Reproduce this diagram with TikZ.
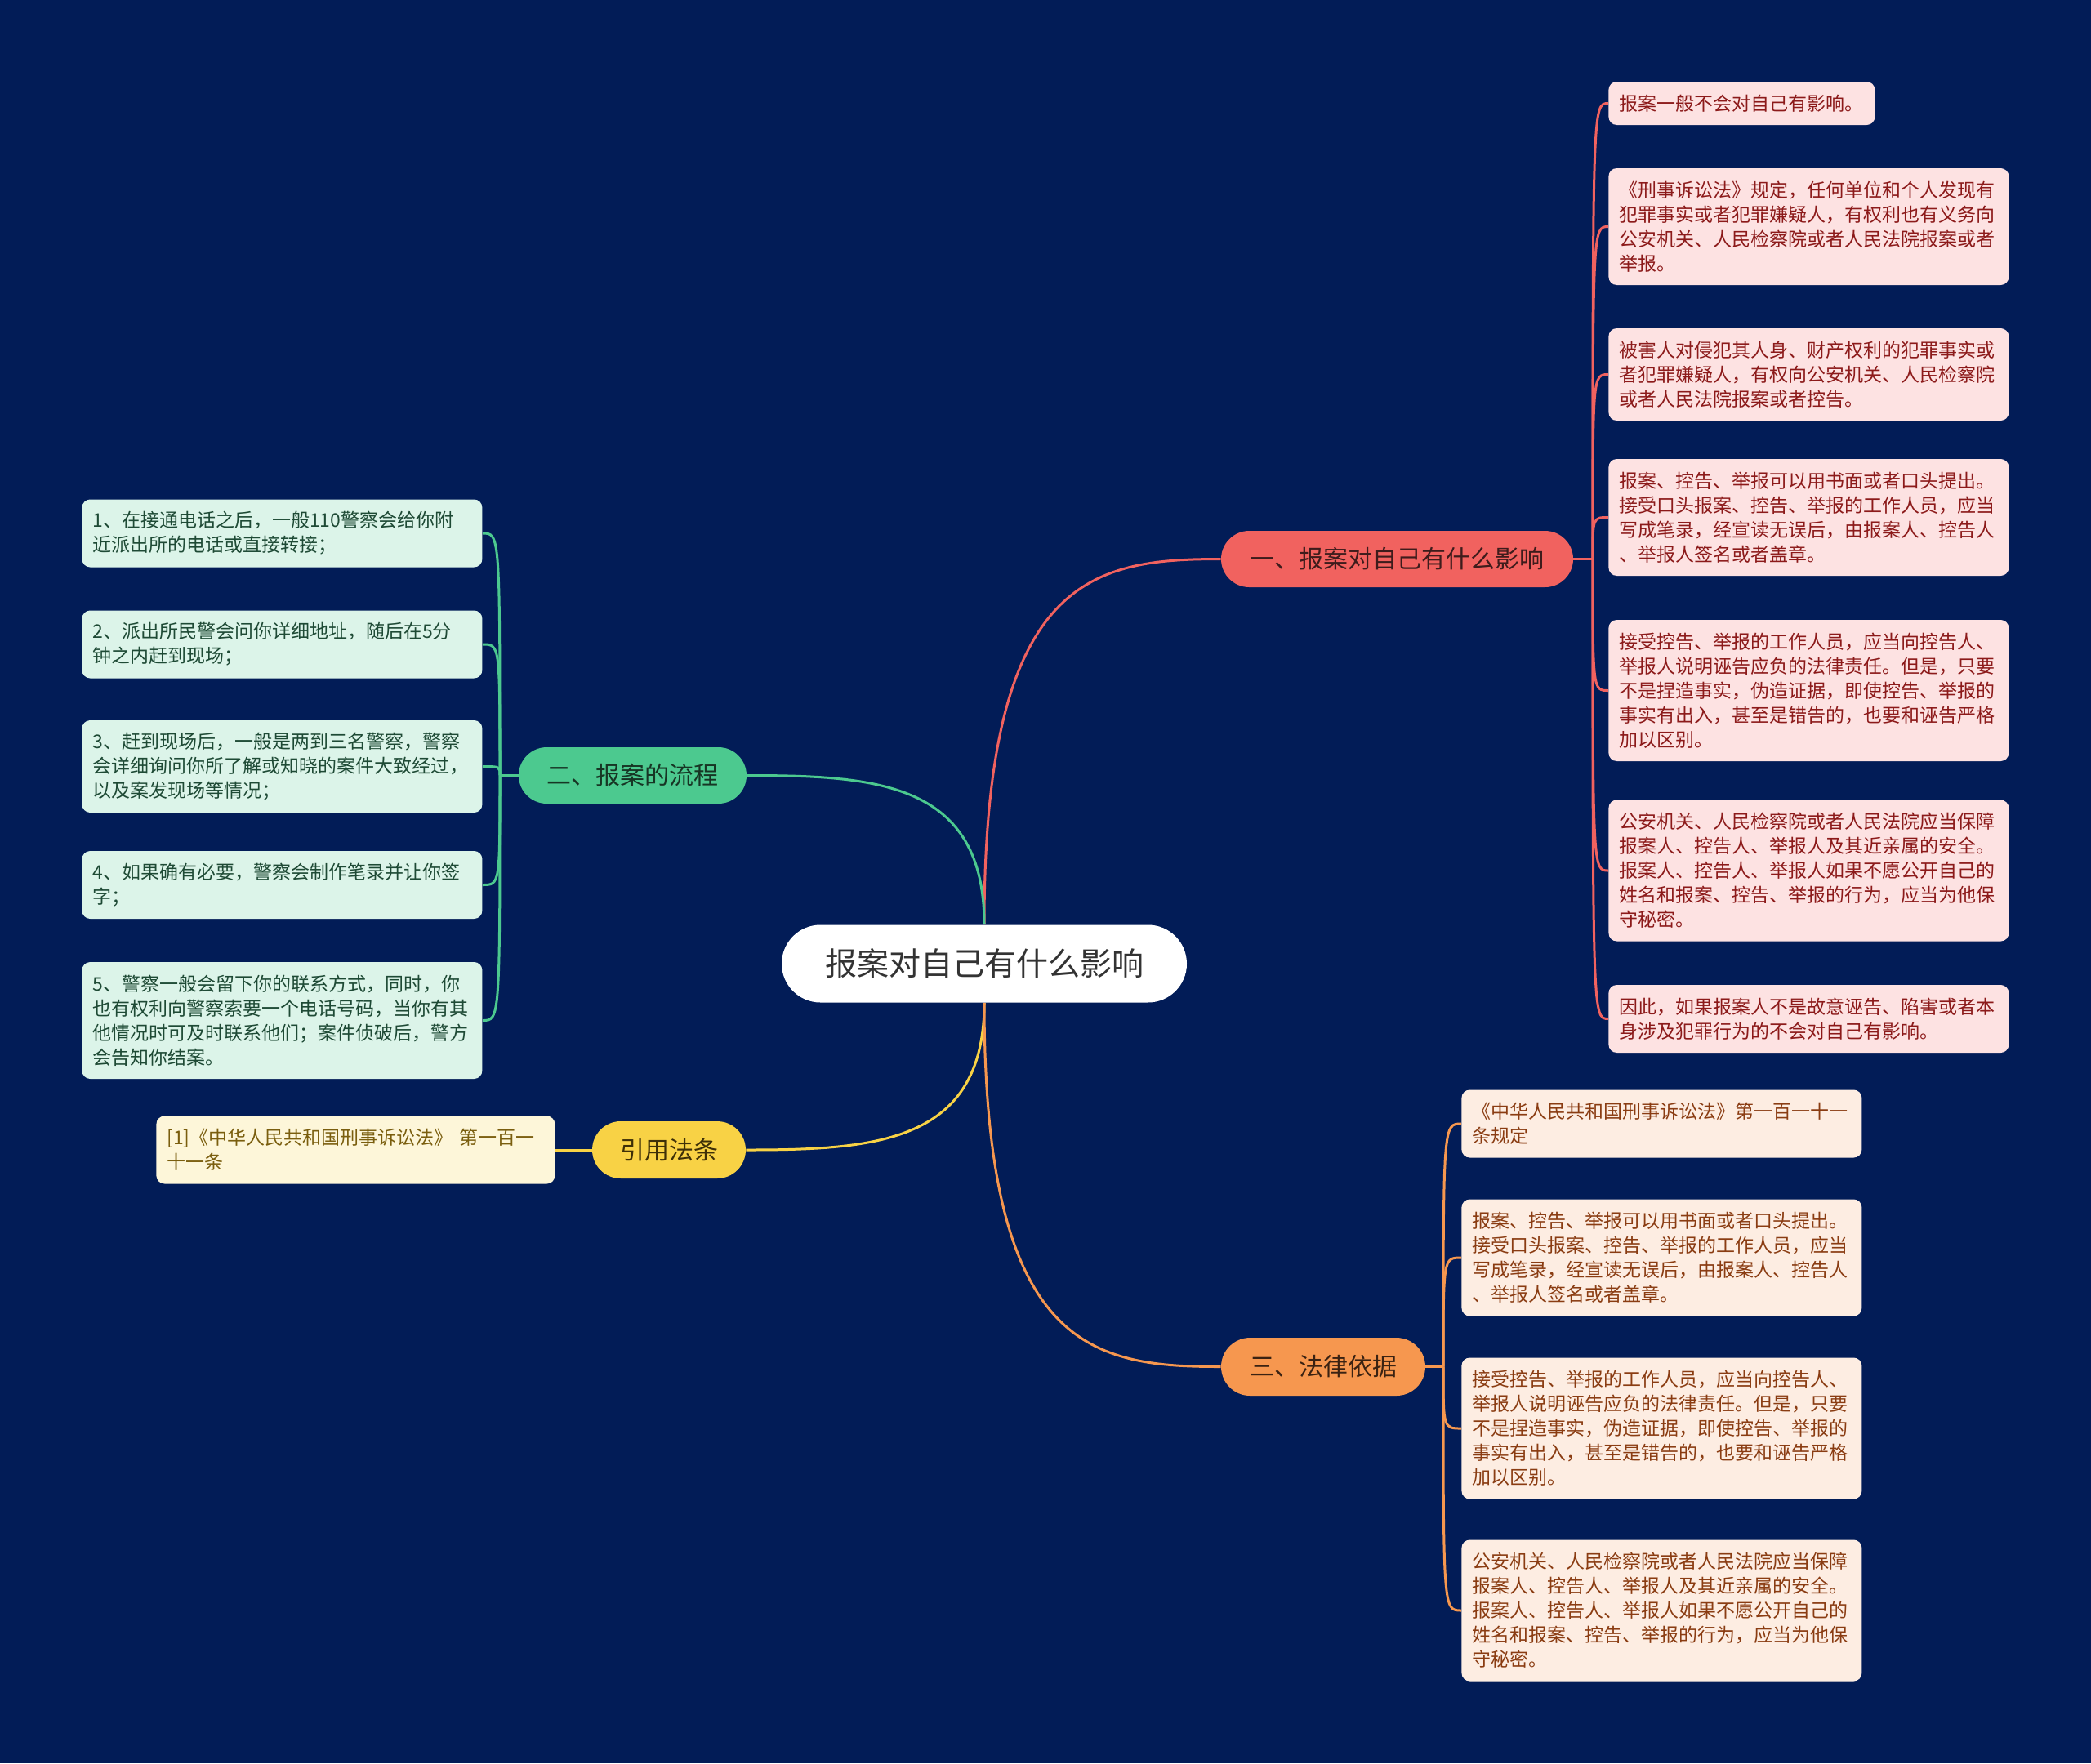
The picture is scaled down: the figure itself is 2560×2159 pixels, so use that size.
\documentclass[tikz,border=0pt]{standalone}
\usepackage{fontspec}
\setmainfont{Noto Sans CJK SC}
\usetikzlibrary{shapes.misc}
\pgfdeclarelayer{bg}
\pgfsetlayers{bg,main}
\definecolor{bgc}{HTML}{021C57}
\definecolor{redb}{HTML}{F1625F}
\definecolor{redl}{HTML}{FDE2E2}
\definecolor{redt}{HTML}{8C1A1A}
\definecolor{redbt}{HTML}{3E1C1C}
\definecolor{grnb}{HTML}{4CC98F}
\definecolor{grnl}{HTML}{DCF4E9}
\definecolor{grnt}{HTML}{1E4A35}
\definecolor{grnbt}{HTML}{173524}
\definecolor{yelb}{HTML}{F8D245}
\definecolor{yell}{HTML}{FDF6D9}
\definecolor{yelt}{HTML}{7A5E0E}
\definecolor{yelbt}{HTML}{3E3008}
\definecolor{orab}{HTML}{F6974F}
\definecolor{oral}{HTML}{FDEDE2}
\definecolor{orat}{HTML}{8A3C12}
\definecolor{orabt}{HTML}{3A2212}
\tikzset{
  leafbox/.style={rectangle, rounded corners=5pt, inner xsep=6.5pt, inner ysep=0pt,
    text width=232pt, align=left, anchor=west,
    font=\fontsize{11.5}{15}\selectfont},
  branchbox/.style={rounded rectangle, inner xsep=0pt, inner ysep=0pt,
    font=\fontsize{15}{18}\selectfont},
  conn/.style={line width=1.5pt},
}
\begin{document}
\begin{tikzpicture}[x=0.5pt,y=-0.5pt]
\useasboundingbox (0,0) rectangle (2560,2159);

% center
\node[rounded rectangle, inner xsep=0pt, fill=white, minimum width=248pt, minimum height=47.5pt,
  text=black!80, font=\fontsize{19.5}{22}\selectfont] (ctr) at (1205,1180) {报案对自己有什么影响};

% branches
\node[branchbox, fill=redb, text=redbt, minimum width=215.5pt, minimum height=34.5pt] (b1) at (1710.5,684.5) {一、报案对自己有什么影响};
\node[branchbox, fill=grnb, text=grnbt, minimum width=139.5pt, minimum height=34.5pt] (b2) at (774.5,949.5) {二、报案的流程};
\node[branchbox, fill=yelb, text=yelbt, minimum width=94pt, minimum height=35pt] (b3) at (819,1408) {引用法条};
\node[branchbox, fill=orab, text=orabt, minimum width=125pt, minimum height=35.5pt] (b4) at (1620,1673.5) {三、法律依据};

% red leaves
\begin{scope}[every node/.append style={leafbox, fill=redl, text=redt}]
\node[text width=150pt, minimum height=26.5pt] (r1) at (1969,126.5) {报案一般不会对自己有影响。};
\node[minimum height=71.5pt] (r2) at (1969,277.5) {《刑事诉讼法》规定，任何单位和个人发现有\\犯罪事实或者犯罪嫌疑人，有权利也有义务向\\公安机关、人民检察院或者人民法院报案或者\\举报。};
\node[minimum height=56.5pt] (r3) at (1969,458.5) {被害人对侵犯其人身、财产权利的犯罪事实或\\者犯罪嫌疑人，有权向公安机关、人民检察院\\或者人民法院报案或者控告。};
\node[minimum height=71.5pt] (r4) at (1969,633.5) {报案、控告、举报可以用书面或者口头提出。\\接受口头报案、控告、举报的工作人员，应当\\写成笔录，经宣读无误后，由报案人、控告人\\、举报人签名或者盖章。};
\node[minimum height=86.5pt] (r5) at (1969,845.5) {接受控告、举报的工作人员，应当向控告人、\\举报人说明诬告应负的法律责任。但是，只要\\不是捏造事实，伪造证据，即使控告、举报的\\事实有出入，甚至是错告的，也要和诬告严格\\加以区别。};
\node[minimum height=86.5pt] (r6) at (1969,1066) {公安机关、人民检察院或者人民法院应当保障\\报案人、控告人、举报人及其近亲属的安全。\\报案人、控告人、举报人如果不愿公开自己的\\姓名和报案、控告、举报的行为，应当为他保\\守秘密。};
\node[minimum height=41.5pt] (r7) at (1969,1247.5) {因此，如果报案人不是故意诬告、陷害或者本\\身涉及犯罪行为的不会对自己有影响。};
\end{scope}

% green leaves
\begin{scope}[every node/.append style={leafbox, fill=grnl, text=grnt}]
\node[minimum height=41.5pt] (g1) at (100,653) {1、在接通电话之后，一般110警察会给你附\\近派出所的电话或直接转接；};
\node[minimum height=41.5pt] (g2) at (100,789) {2、派出所民警会问你详细地址，随后在5分\\钟之内赶到现场；};
\node[minimum height=56.5pt] (g3) at (100,938.5) {3、赶到现场后，一般是两到三名警察，警察\\会详细询问你所了解或知晓的案件大致经过，\\以及案发现场等情况；};
\node[minimum height=41.5pt] (g4) at (100,1083.5) {4、如果确有必要，警察会制作笔录并让你签\\字；};
\node[minimum height=71.5pt] (g5) at (100,1249.5) {5、警察一般会留下你的联系方式，同时，你\\也有权利向警察索要一个电话号码，当你有其\\他情况时可及时联系他们；案件侦破后，警方\\会告知你结案。};
\end{scope}

% yellow leaf
\node[leafbox, fill=yell, text=yelt, text width=231pt, minimum height=41.5pt] (y1) at (191,1408) {[1]《中华人民共和国刑事诉讼法》 第一百一\\十一条};

% orange leaves
\begin{scope}[every node/.append style={leafbox, fill=oral, text=orat}]
\node[minimum height=41.5pt] (o1) at (1789,1376) {《中华人民共和国刑事诉讼法》第一百一十一\\条规定};
\node[minimum height=71.5pt] (o2) at (1789,1540) {报案、控告、举报可以用书面或者口头提出。\\接受口头报案、控告、举报的工作人员，应当\\写成笔录，经宣读无误后，由报案人、控告人\\、举报人签名或者盖章。};
\node[minimum height=86.5pt] (o3) at (1789,1749) {接受控告、举报的工作人员，应当向控告人、\\举报人说明诬告应负的法律责任。但是，只要\\不是捏造事实，伪造证据，即使控告、举报的\\事实有出入，甚至是错告的，也要和诬告严格\\加以区别。};
\node[minimum height=86.5pt] (o4) at (1789,1972) {公安机关、人民检察院或者人民法院应当保障\\报案人、控告人、举报人及其近亲属的安全。\\报案人、控告人、举报人如果不愿公开自己的\\姓名和报案、控告、举报的行为，应当为他保\\守秘密。};
\end{scope}

\coordinate (s1) at (1950,684.5);
\coordinate (s2) at (612,949.5);
\coordinate (s4) at (1767,1673.5);

\begin{pgfonlayer}{bg}
\fill[bgc] (0,0) rectangle (2560,2159);
% main connectors
\draw[conn, draw=redb] (ctr.north) .. controls (1205,707) and (1336,684.5) .. (b1.west);
\draw[conn, draw=grnb] (ctr.north) .. controls (1205,958) and (1074,949.5) .. (b2.east);
\draw[conn, draw=yelb] (ctr.south) .. controls (1205,1399) and (1074,1408) .. (b3.east);
\draw[conn, draw=orab] (ctr.south) .. controls (1205,1652) and (1336,1673.5) .. (b4.west);
% red leaf connectors
\draw[conn, draw=redb] (b1.east) -- (s1);
\foreach \n in {r1,r2,r3,r4,r5,r6,r7}
  \draw[conn, draw=redb] (s1) .. controls (\n.west -| s1) and (\n.west -| s1) .. (\n.west);
% green leaf connectors
\draw[conn, draw=grnb] (b2.west) -- (s2);
\foreach \n in {g1,g2,g3,g4,g5}
  \draw[conn, draw=grnb] (s2) .. controls (\n.east -| s2) and (\n.east -| s2) .. (\n.east);
% yellow
\draw[conn, draw=yelb] (b3.west) -- (y1.east);
% orange leaf connectors
\draw[conn, draw=orab] (b4.east) -- (s4);
\foreach \n in {o1,o2,o3,o4}
  \draw[conn, draw=orab] (s4) .. controls (\n.west -| s4) and (\n.west -| s4) .. (\n.west);
\end{pgfonlayer}
\end{tikzpicture}
\end{document}
